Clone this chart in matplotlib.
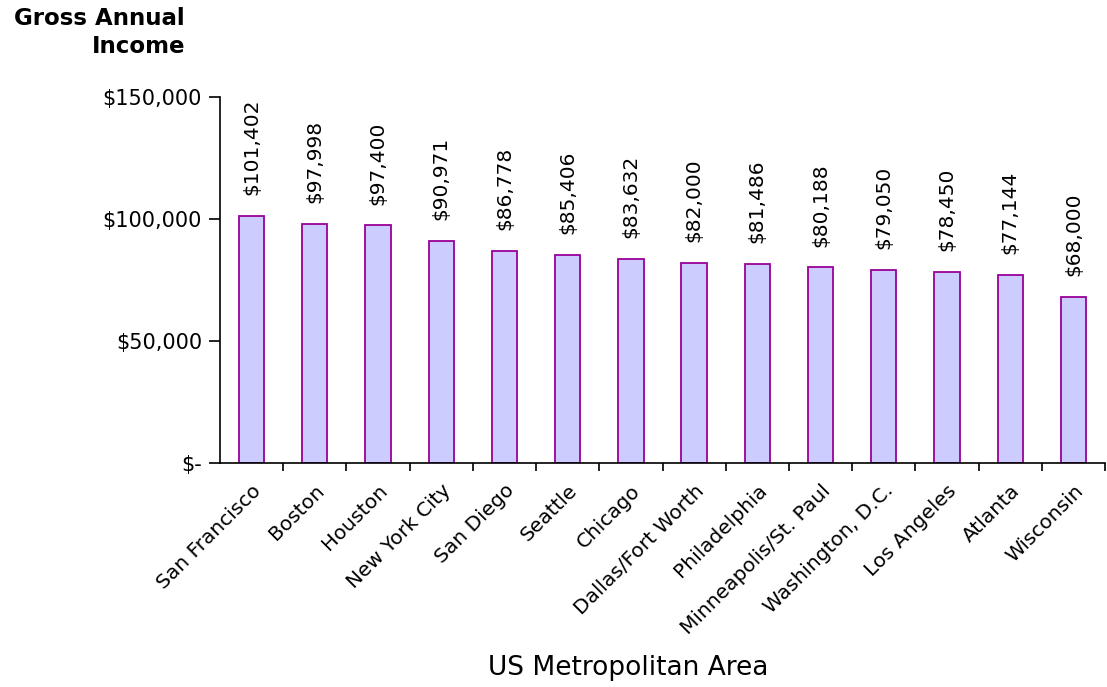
import matplotlib
matplotlib.use("Agg")
import matplotlib.pyplot as plt
import numpy as np

areas = ["San Francisco", "Boston", "Houston", "New York City", "San Diego",
         "Seattle", "Chicago", "Dallas/Fort Worth", "Philadelphia",
         "Minneapolis/St. Paul", "Washington, D.C.", "Los Angeles",
         "Atlanta", "Wisconsin"]
income = [101402, 97998, 97400, 90971, 86778, 85406, 83632, 82000,
          81486, 80188, 79050, 78450, 77144, 68000]
ytick_values = [0, 50000, 100000, 150000]
ytick_labels = ["$-", "$50,000", "$100,000", "$150,000"]

plt.rcParams['font.family'] = ['DejaVu Sans']

W, H = 1107, 687
fig = plt.figure(figsize=(W / 100, H / 100), dpi=100)
ax = fig.add_axes([220 / W, 1 - 463 / H, (1105 - 220) / W, (463 - 97) / H])

x = np.arange(len(areas))
ax.bar(x, income, width=0.4, color="#CCCCFF", edgecolor="#990099",
       linewidth=1.3, zorder=2)

for xi, v in zip(x, income):
    ax.annotate(f"${v:,}", (xi, v), xytext=(0, 15), textcoords="offset points",
                rotation=90, ha="center", va="bottom", fontsize=14.5)

ax.set_xlim(-0.5, len(areas) - 0.5)
ax.set_ylim(0, 150000)

ax.set_yticks(ytick_values)
ax.set_yticklabels(ytick_labels, fontsize=15)
ax.tick_params(axis="y", direction="out", length=8, width=1.2, pad=5)

ax.set_xticks(x)
ax.set_xticklabels(areas, rotation=45, ha="right", rotation_mode="anchor",
                   fontsize=14.5)
ax.tick_params(axis="x", which="major", length=0, pad=13)
ax.set_xticks(np.arange(len(areas)) + 0.5, minor=True)
ax.tick_params(axis="x", which="minor", direction="out", length=6, width=1.2)

for s in ("top", "right"):
    ax.spines[s].set_visible(False)
for s in ("left", "bottom"):
    ax.spines[s].set_linewidth(1.2)

fig.text(185 / W, 1 - 7 / H, "Gross Annual\nIncome", ha="right", va="top",
         multialignment="right", fontsize=16.5, fontweight="bold",
         linespacing=1.3)
fig.text(628 / W, 1 - 668 / H, "US Metropolitan Area", ha="center",
         va="center", fontsize=19)

fig.savefig("out.png", dpi=100)
